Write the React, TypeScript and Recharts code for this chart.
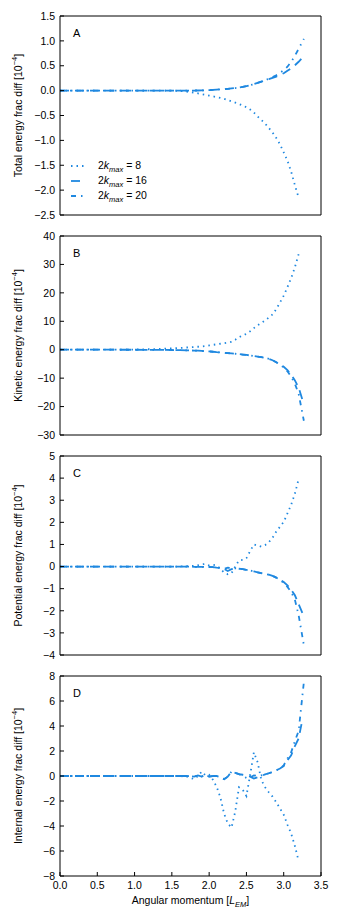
import React from 'react';
import { LineChart, Line, XAxis, YAxis, ReferenceArea, Legend } from 'recharts';

// ---------- data ----------
const X_BASE = [0, 0.25, 0.5, 0.75, 1.0, 1.25, 1.5, 1.6, 1.7, 1.8, 1.85, 1.9, 1.95, 2.0, 2.05, 2.1, 2.15, 2.2, 2.25, 2.3, 2.35, 2.4, 2.45, 2.5, 2.55, 2.6, 2.65, 2.7, 2.75, 2.8, 2.85, 2.9, 2.95, 3.0, 3.05, 3.1, 3.15, 3.2];
const X_K8 = X_BASE;
const X_K16 = [...X_BASE, 3.25];
const X_K20 = [...X_BASE, 3.27];

const X_TICKS = [0, 0.5, 1.0, 1.5, 2.0, 2.5, 3.0, 3.5];

const TOTAL_K8 = [0, 0, 0, 0, 0, 0, 0, -0.005, -0.02, -0.04, -0.055, -0.07, -0.085, -0.1, -0.115, -0.13, -0.145, -0.165, -0.19, -0.215, -0.24, -0.27, -0.3, -0.335, -0.38, -0.44, -0.52, -0.59, -0.66, -0.75, -0.84, -0.95, -1.08, -1.24, -1.41, -1.63, -1.9, -2.15];
const TOTAL_K16 = [0, 0, 0, 0, 0, 0, 0, 0, 0, 0.002, 0.003, 0.005, 0.007, 0.01, 0.015, 0.02, 0.025, 0.03, 0.037, 0.045, 0.052, 0.06, 0.075, 0.09, 0.11, 0.13, 0.155, 0.18, 0.205, 0.23, 0.255, 0.28, 0.315, 0.35, 0.4, 0.45, 0.51, 0.58, 0.66];
const TOTAL_K20 = [0, 0, 0, 0, 0, 0, 0, 0, 0, 0.002, 0.003, 0.005, 0.007, 0.01, 0.015, 0.02, 0.025, 0.03, 0.037, 0.045, 0.052, 0.06, 0.075, 0.09, 0.11, 0.13, 0.155, 0.18, 0.205, 0.24, 0.27, 0.31, 0.36, 0.41, 0.48, 0.58, 0.7, 0.84, 1.04];
const TOTAL_TICKS = [-2.5, -2.0, -1.5, -1.0, -0.5, 0, 0.5, 1.0, 1.5];

const KIN_K8 = [0, 0, 0, 0, 0.05, 0.2, 0.45, 0.6, 0.78, 0.95, 1.05, 1.15, 1.3, 1.5, 1.7, 1.9, 2.1, 2.3, 2.5, 2.8, 3.5, 4.4, 5.0, 5.6, 6.5, 7.6, 8.6, 9.4, 10.3, 11.3, 12.4, 14.3, 16.6, 19.0, 22.0, 25.2, 29.0, 33.6];
const KIN_K16 = [0, 0, 0, 0, -0.02, -0.05, -0.1, -0.15, -0.2, -0.3, -0.35, -0.42, -0.5, -0.6, -0.72, -0.85, -0.95, -1.05, -1.18, -1.3, -1.42, -1.55, -1.7, -1.85, -2.0, -2.2, -2.4, -2.6, -2.85, -3.2, -3.7, -4.4, -5.2, -6.0, -7.2, -8.8, -10.8, -13.3, -17.5];
const KIN_K20 = [0, 0, 0, 0, -0.02, -0.05, -0.1, -0.15, -0.2, -0.3, -0.35, -0.42, -0.5, -0.6, -0.72, -0.85, -0.95, -1.05, -1.18, -1.3, -1.42, -1.55, -1.7, -1.85, -2.0, -2.2, -2.4, -2.6, -2.85, -3.2, -3.7, -4.4, -5.2, -6.3, -7.6, -9.5, -12.0, -15.5, -25.0];
const KIN_TICKS = [-30, -20, -10, 0, 10, 20, 30, 40];

const POT_K8 = [0, 0, 0, 0, 0, 0, 0, 0, 0.02, 0.03, 0.06, 0.1, 0.12, 0.05, 0.08, 0.05, -0.1, -0.27, -0.35, -0.3, 0.0, 0.28, 0.3, 0.38, 0.7, 1.0, 0.95, 0.9, 0.97, 1.1, 1.3, 1.58, 1.8, 2.02, 2.4, 2.8, 3.3, 3.95];
const POT_K16 = [0, 0, 0, 0, 0, 0, 0, 0, 0, -0.01, -0.01, -0.01, -0.02, -0.02, -0.03, -0.05, -0.06, -0.1, -0.2, -0.12, -0.08, -0.1, -0.12, -0.15, -0.18, -0.22, -0.26, -0.3, -0.33, -0.37, -0.42, -0.5, -0.6, -0.7, -0.85, -1.05, -1.3, -1.7, -2.1];
const POT_K20 = [0, 0, 0, 0, 0, 0, 0, 0, 0, -0.01, -0.01, -0.01, -0.02, -0.02, -0.03, -0.05, -0.06, -0.1, -0.05, -0.08, -0.08, -0.1, -0.12, -0.15, -0.18, -0.22, -0.26, -0.3, -0.33, -0.37, -0.42, -0.5, -0.6, -0.75, -0.92, -1.15, -1.5, -2.2, -3.55];
const POT_TICKS = [-4, -3, -2, -1, 0, 1, 2, 3, 4, 5];

const INT_K8 = [0, 0, 0, 0, 0, 0, 0, 0, -0.05, -0.25, 0.0, 0.35, 0.05, 0.1, -0.3, -0.85, -1.7, -3.0, -3.8, -4.13, -2.85, -0.9, -1.1, -1.6, 0.1, 1.9, 1.1, -0.32, -0.9, -1.3, -1.65, -2.1, -2.6, -3.1, -3.9, -4.6, -5.6, -6.8];
const INT_K16 = [0, 0, 0, 0, 0, 0, 0, 0, 0, -0.05, 0.05, -0.05, 0.1, -0.05, 0.0, 0.0, -0.1, -0.25, -0.05, 0.35, 0.25, 0.15, 0.1, 0.05, -0.05, -0.2, -0.1, 0.0, 0.13, 0.22, 0.32, 0.45, 0.6, 0.8, 1.25, 1.65, 2.4, 3.0, 4.5];
const INT_K20 = [0, 0, 0, 0, 0, 0, 0, 0, 0, -0.05, 0.05, -0.05, 0.1, -0.05, 0.0, 0.0, -0.1, -0.25, -0.05, 0.35, 0.25, 0.15, 0.0, -0.15, -0.1, 0.05, 0.0, 0.05, 0.13, 0.22, 0.32, 0.45, 0.6, 0.85, 1.4, 1.9, 2.8, 3.6, 7.5];
const INT_TICKS = [-8, -6, -4, -2, 0, 2, 4, 6, 8];

const SERIES_NAMES = ['2k_max = 8', '2k_max = 16', '2k_max = 20'];
const SERIES_VALUES = ['8', '16', '20'];

// ---------- style ----------
const FONT = '"Liberation Sans", Arial, Helvetica, sans-serif';
const COLOR = '#1f88e0';
const DASHES = ['1.5 4', '9 6', '5 5 1.5 5'];
const STROKE_W = 1.8;

const toPts = (xs: number[], ys: number[]) => xs.map((x, i) => ({ x, y: ys[i] }));
const fmtMinus = (s: string) => s.replace('-', '\u2212');

function YLabel(props: any) {
  const vb = props.viewBox || { x: 0, y: 16, width: 60, height: 199 };
  const cx = vb.x + 18;
  const cy = vb.y + vb.height / 2;
  return (
    <text
      x={cx}
      y={cy}
      transform={`rotate(-90 ${cx} ${cy})`}
      textAnchor="middle"
      dominantBaseline="central"
      fontSize={10.5}
      fontFamily={FONT}
      fill="#000"
    >
      {props.text} [10
      <tspan dy={-4} fontSize={7.5}>{'\u22124'}</tspan>
      <tspan dy={4}>]</tspan>
    </text>
  );
}

function XLabel(props: any) {
  const vb = props.viewBox || { x: 60, y: 216, width: 261, height: 44 };
  const cx = vb.x + vb.width / 2;
  const cy = vb.y + 28;
  return (
    <text x={cx} y={cy} textAnchor="middle" fontSize={10.5} fontFamily={FONT} fill="#000">
      Angular momentum [
      <tspan fontStyle="italic">L</tspan>
      <tspan fontStyle="italic" fontSize={7.5} dy={2.5}>EM</tspan>
      <tspan dy={-2.5}>]</tspan>
    </text>
  );
}

function LegendBox() {
  return (
    <div style={{ fontFamily: FONT, fontSize: 10.5, color: '#000', lineHeight: '15px' }}>
      {SERIES_VALUES.map((v, i) => (
        <div key={v} style={{ display: 'flex', alignItems: 'center', height: 15.3 }}>
          <svg width={14} height={4} style={{ display: 'block' }}>
            <line x1={0} y1={2} x2={14} y2={2} stroke={COLOR} strokeWidth={STROKE_W} strokeDasharray={DASHES[i]} />
          </svg>
          <span style={{ marginLeft: 13, whiteSpace: 'nowrap' }}>
            2<i>k</i>
            <span style={{ fontSize: 7.5, fontStyle: 'italic', position: 'relative', top: 3 }}>max</span>
            {' = ' + v}
          </span>
        </div>
      ))}
    </div>
  );
}

type PanelProps = {
  letter: string;
  yLabel: string;
  ticks: number[];
  k8: number[];
  k16: number[];
  k20: number[];
  decimals: number;
  legend?: boolean;
  bottom?: boolean;
};

function Panel({ letter, yLabel, ticks, k8, k16, k20, decimals, legend, bottom }: PanelProps) {
  const domain: [number, number] = [ticks[0], ticks[ticks.length - 1]];
  const height = bottom ? 260 : 220;
  const axisStroke = { stroke: '#000', strokeWidth: 1 };
  return (
    <LineChart
      width={339}
      height={height}
      margin={{ top: 15, right: 17, bottom: bottom ? 0 : 4, left: 0 }}
    >
      <XAxis
        xAxisId={0}
        dataKey="x"
        type="number"
        domain={[0, 3.5]}
        ticks={X_TICKS}
        interval={0}
        allowDataOverflow
        height={bottom ? 44 : 1}
        tickSize={-4}
        tickMargin={10}
        axisLine={axisStroke}
        tickLine={axisStroke}
        tick={bottom ? { fontSize: 10.5, fontFamily: FONT, fill: '#000' } : false}
        tickFormatter={(v: number) => v.toFixed(1)}
        label={bottom ? <XLabel /> : undefined}
      />
      <XAxis
        xAxisId="top"
        orientation="top"
        dataKey="x"
        type="number"
        domain={[0, 3.5]}
        ticks={X_TICKS}
        interval={0}
        allowDataOverflow
        height={1}
        tickSize={-4}
        axisLine={axisStroke}
        tickLine={axisStroke}
        tick={false}
      />
      <YAxis
        yAxisId={0}
        type="number"
        domain={domain}
        ticks={ticks}
        interval={0}
        allowDataOverflow
        width={60}
        tickSize={-4}
        tickMargin={9}
        axisLine={axisStroke}
        tickLine={axisStroke}
        tick={{ fontSize: 10.5, fontFamily: FONT, fill: '#000' }}
        tickFormatter={(v: number) => fmtMinus(v.toFixed(decimals))}
        label={<YLabel text={yLabel} />}
      />
      <YAxis
        yAxisId="right"
        orientation="right"
        type="number"
        domain={domain}
        ticks={ticks}
        interval={0}
        allowDataOverflow
        width={1}
        tickSize={-4}
        axisLine={axisStroke}
        tickLine={axisStroke}
        tick={false}
      />
      <ReferenceArea
        x1={0}
        x2={3.5}
        y1={domain[0]}
        y2={domain[1]}
        fill="none"
        fillOpacity={0}
        stroke="none"
        ifOverflow="visible"
        label={{ value: letter, position: 'insideTopLeft', offset: 13, fontSize: 11, fontFamily: FONT, fill: '#000' }}
      />
      <Line
        data={toPts(X_K8, k8)}
        dataKey="y"
        name={SERIES_NAMES[0]}
        type="linear"
        stroke={COLOR}
        strokeWidth={STROKE_W}
        strokeDasharray={DASHES[0]}
        dot={false}
        activeDot={false}
        isAnimationActive={false}
      />
      <Line
        data={toPts(X_K16, k16)}
        dataKey="y"
        name={SERIES_NAMES[1]}
        type="linear"
        stroke={COLOR}
        strokeWidth={STROKE_W}
        strokeDasharray={DASHES[1]}
        dot={false}
        activeDot={false}
        isAnimationActive={false}
      />
      <Line
        data={toPts(X_K20, k20)}
        dataKey="y"
        name={SERIES_NAMES[2]}
        type="linear"
        stroke={COLOR}
        strokeWidth={STROKE_W}
        strokeDasharray={DASHES[2]}
        dot={false}
        activeDot={false}
        isAnimationActive={false}
      />
      {legend ? (
        <Legend
          layout="vertical"
          align="center"
          verticalAlign="middle"
          content={() => <LegendBox />}
          wrapperStyle={{ position: 'absolute', left: 71, top: 158, width: 120, height: 46 }}
        />
      ) : null}
    </LineChart>
  );
}

export default function App() {
  return (
    <div style={{ position: 'absolute', left: 0, top: 0, width: 339, height: 920, background: '#fff' }}>
      <Panel letter="A" yLabel="Total energy frac diff" ticks={TOTAL_TICKS} k8={TOTAL_K8} k16={TOTAL_K16} k20={TOTAL_K20} decimals={1} legend />
      <Panel letter="B" yLabel="Kinetic energy frac diff" ticks={KIN_TICKS} k8={KIN_K8} k16={KIN_K16} k20={KIN_K20} decimals={0} />
      <Panel letter="C" yLabel="Potential energy frac diff" ticks={POT_TICKS} k8={POT_K8} k16={POT_K16} k20={POT_K20} decimals={0} />
      <Panel letter="D" yLabel="Internal energy frac diff" ticks={INT_TICKS} k8={INT_K8} k16={INT_K16} k20={INT_K20} decimals={0} bottom />
    </div>
  );
}
